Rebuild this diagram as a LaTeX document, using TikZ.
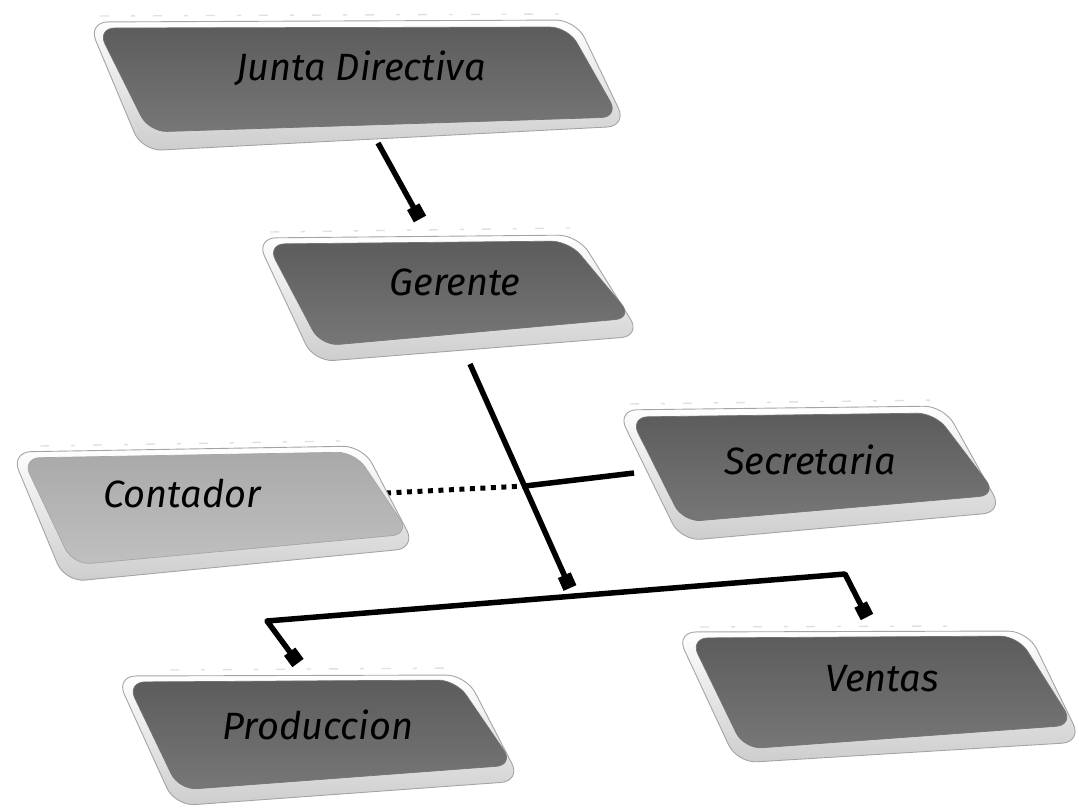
\documentclass[tikz,border=0pt]{standalone}
\usepackage{fontspec}
\setmainfont{Fira Sans}
\usetikzlibrary{arrows.meta}

\definecolor{faceTop}{HTML}{5C5C5C}
\definecolor{faceBot}{HTML}{777777}
\definecolor{faceLTop}{HTML}{A9A9A9}
\definecolor{faceLBot}{HTML}{C0C0C0}
\definecolor{rimLine}{HTML}{A4A4A4}
\definecolor{rimBot}{HTML}{CDCDCD}

\tikzset{
  rim/.style={rounded corners=20pt, top color=white, bottom color=rimBot,
    draw=rimLine, line width=0.9pt},
  face/.style={rounded corners=18pt, top color=faceTop, bottom color=faceBot,
    draw=black!55, line width=0.7pt},
  lightface/.style={rounded corners=18pt, top color=faceLTop, bottom color=faceLBot,
    draw=black!35, line width=0.7pt},
  reflect/.style={draw=black!12, line width=1.4pt, dash pattern=on 9pt off 22pt on 4pt off 18pt},
  lbl/.style={font=\fontsize{38}{40}\selectfont\itshape, text=black, inner sep=0pt},
  conn/.style={line width=5.5pt, draw=black, line join=round},
  sq/.tip={Square[length=14pt,width=14pt]},
  tip/.style={-sq},
  dotline/.style={line width=5pt, draw=black, dash pattern=on 5pt off 5.5pt}
}

\begin{document}
\begin{tikzpicture}[x=1pt, y=-1pt]
\useasboundingbox (0,0) rectangle (1079,808);
\clip (0,0) rectangle (1079,808);

% attachment points of the connectors
\coordinate (jd-s) at (378,143);
\coordinate (ge-n) at (420,219);
\coordinate (ge-s) at (470,364);
\coordinate (bar-m) at (570,588);
\coordinate (br) at (525,486);
\coordinate (se-w) at (634,473);
\coordinate (co-e) at (386,493);
\coordinate (bar-l) at (267,621);
\coordinate (bar-r) at (845,574);
\coordinate (pr-n) at (298,663);
\coordinate (ve-n) at (867,617);

% connectors
\draw[conn, tip] (jd-s) -- (ge-n);
\draw[conn, tip] (ge-s) -- (bar-m);
\draw[conn] (br) -- (se-w);
\draw[dotline] (co-e) -- (br);
\draw[conn, sq-sq] (pr-n) -- (bar-l) -- (bar-r) -- (ve-n);

% Junta Directiva
\draw[reflect] (100,16) -- (560,14);
\path[rim] (88,22) -- (576,20) -- (627,126) -- (142,151) -- cycle;
\path[face] (97,28) -- (568,27) -- (619,117) -- (149,132) -- cycle;
\node[lbl] (jd) at (361,68) {Junta Directiva};

% Gerente
\draw[reflect] (270,232) -- (570,228);
\path[rim] (256,238) -- (578,235) -- (641,336) -- (314,362) -- cycle;
\path[face] (267,244) -- (569,241) -- (633,318) -- (321,346) -- cycle;
\node[lbl] (ge) at (455,282) {Gerente};

% Secretaria
\draw[reflect] (630,404) -- (940,400);
\path[rim] (617,410) -- (944,406) -- (1003,512) -- (681,541) -- cycle;
\path[face] (630,417) -- (935,413) -- (997,495) -- (683,522) -- cycle;
\node[lbl] (se) at (810,460) {Secretaria};

% Contador
\draw[reflect] (40,446) -- (340,441);
\path[rim] (11,452) -- (363,446) -- (416,548) -- (65,582) -- cycle;
\path[lightface] (22,458) -- (355,452) -- (410,534) -- (73,565) -- cycle;
\node[lbl] (co) at (182,494) {Contador};

% Produccion
\draw[reflect] (170,670) -- (460,668);
\path[rim] (116,676) -- (466,675) -- (521,781) -- (175,806) -- cycle;
\path[face] (127,682) -- (456,680) -- (514,765) -- (179,790) -- cycle;
\node[lbl] (pr) at (318,725) {Produccion};

% Ventas
\draw[reflect] (700,627) -- (960,626);
\path[rim] (676,632) -- (1028,631) -- (1082,742) -- (737,763) -- cycle;
\path[face] (690,638) -- (1018,636) -- (1074,725) -- (744,749) -- cycle;
\node[lbl] (ve) at (882,679) {Ventas};
\end{tikzpicture}
\end{document}
